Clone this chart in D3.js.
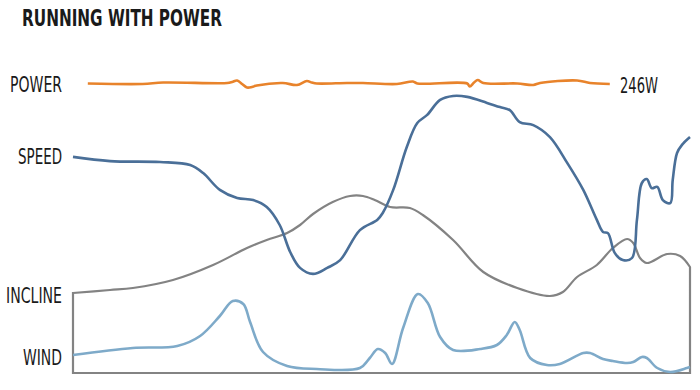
<!DOCTYPE html>
<html>
<head>
<meta charset="utf-8">
<script src="https://cdn.jsdelivr.net/npm/d3@7"></script>
<style>
  body { margin: 0; background: #fff; }
  svg text { font-family: "DejaVu Sans Condensed", "DejaVu Sans", sans-serif; fill: #1a1a1a; }
</style>
</head>
<body>
<div id="chart"></div>
<script>
// ─── DATA (distance in km) ───
const powerKm = [0.24, 1.13, 1.46, 2.50, 2.58, 2.66, 2.74, 2.82, 2.90, 2.98, 3.40, 3.63, 3.79, 3.87, 3.95, 4.44, 4.70, 5.25, 5.51, 5.58, 6.39, 6.43, 6.50, 6.56, 6.65, 7.20, 7.46, 7.57, 8.17, 8.38, 8.70];
const powerW = [245.5, 245, 246.5, 246, 247, 248.5, 245, 241.5, 242, 243.5, 246, 244, 248, 246.5, 245.5, 246, 246, 245, 247.5, 245.5, 245.5, 242.5, 246.5, 249, 246, 245.5, 244, 246, 248.5, 246, 245];

const speedKm = [0, 0.60, 1.41, 1.90, 2.11, 2.38, 2.66, 2.92, 3.14, 3.35, 3.52, 3.68, 3.89, 4.12, 4.33, 4.65, 4.93, 5.02, 5.19, 5.41, 5.58, 5.74, 5.95, 6.16, 6.39, 6.71, 6.92, 7.08, 7.24, 7.46, 7.73, 8.01, 8.27, 8.49, 8.59, 8.67, 8.78, 8.91, 9.06, 9.14, 9.22, 9.30, 9.38, 9.47, 9.56, 9.68, 9.72, 9.79, 9.87, 10.00];
const speedKmh = [12.77, 12.63, 12.60, 12.50, 12.23, 11.67, 11.40, 11.33, 11.10, 10.50, 9.60, 9.07, 8.87, 9.07, 9.33, 10.33, 10.67, 10.90, 11.67, 13.10, 13.90, 14.17, 14.67, 14.80, 14.77, 14.57, 14.43, 14.33, 13.93, 13.83, 13.43, 12.57, 11.67, 10.67, 10.27, 10.23, 9.57, 9.33, 9.40, 10.67, 11.90, 12.03, 11.73, 11.77, 11.33, 11.23, 12.00, 12.90, 13.17, 13.43];

const inclineKm = [0, 0.60, 0.97, 1.62, 2.27, 2.82, 3.14, 3.47, 3.68, 3.89, 4.21, 4.49, 4.70, 4.89, 5.14, 5.46, 5.67, 6.16, 6.65, 7.20, 7.73, 7.94, 8.17, 8.49, 8.75, 8.98, 9.08, 9.19, 9.30, 9.63, 9.84, 10.00];
const inclinePct = [4.00, 4.15, 4.25, 4.65, 5.40, 6.25, 6.65, 7.00, 7.40, 7.95, 8.55, 8.85, 8.85, 8.65, 8.30, 8.25, 7.90, 6.65, 5.05, 4.25, 3.85, 4.05, 4.80, 5.40, 6.25, 6.70, 6.50, 5.75, 5.50, 5.95, 5.85, 5.30];

const windKm = [0, 0.97, 1.69, 2.06, 2.38, 2.59, 2.76, 2.87, 3.08, 3.47, 3.95, 4.65, 4.81, 4.94, 5.06, 5.17, 5.35, 5.59, 5.75, 5.95, 6.16, 6.60, 6.87, 7.03, 7.16, 7.24, 7.41, 7.68, 7.89, 8.27, 8.38, 8.59, 8.75, 8.98, 9.08, 9.22, 9.30, 9.47, 9.68, 9.95, 10.00];
const windKmh = [3.6, 5.0, 5.4, 7.4, 11.4, 14.4, 13.8, 10.2, 4.2, 1.4, 0.8, 1.0, 3.0, 4.8, 4.0, 1.8, 9.0, 15.8, 14.0, 7.2, 4.6, 4.8, 5.6, 7.6, 10.2, 8.6, 3.0, 1.6, 1.8, 4.0, 4.0, 2.8, 2.4, 2.0, 2.2, 3.2, 3.0, 1.0, 0.2, 1.0, 1.2];

const title = "RUNNING WITH POWER";
const powerLabel = "246W";

// ─── LAYOUT ───
const width = 700, height = 390;
const svg = d3.select("#chart").append("svg")
    .attr("width", width)
    .attr("height", height);

const zip = (xs, ys) => xs.map((x, i) => ({ km: x, v: ys[i] }));

// Scales
const x = d3.scaleLinear().domain([0, 10]).range([73, 690]);
const powerY = d3.scaleLinear().domain([236, 256]).range([93, 73]);
const speedY = d3.scaleLinear().domain([8, 16]).range([300, 60]);
const inclineY = d3.scaleLinear().domain([0, 10]).range([373, 173]);
const windY = d3.scaleLinear().domain([0, 20]).range([373, 273]);

const curve = d3.curveCatmullRom.alpha(0.5); // smooth, passes through points

// Incline outline (area with no fill, frames the bottom panel)
const incline = zip(inclineKm, inclinePct);
svg.append("path")
    .datum(incline)
    .attr("fill", "none")
    .attr("stroke", "#838383")
    .attr("stroke-width", 2.2)
    .attr("d", d3.area().x(d => x(d.km)).y0(inclineY(0)).y1(d => inclineY(d.v)).curve(curve));

// Wind
const wind = zip(windKm, windKmh);
svg.append("path")
    .datum(wind)
    .attr("fill", "none")
    .attr("stroke", "#7eaac9")
    .attr("stroke-width", 2.6)
    .attr("d", d3.line().x(d => x(d.km)).y(d => windY(d.v)).curve(curve));

// Speed
const speed = zip(speedKm, speedKmh);
svg.append("path")
    .datum(speed)
    .attr("fill", "none")
    .attr("stroke", "#4a6f98")
    .attr("stroke-width", 2.6)
    .attr("d", d3.line().x(d => x(d.km)).y(d => speedY(d.v)).curve(curve));

// Power
const power = zip(powerKm, powerW);
svg.append("path")
    .datum(power)
    .attr("fill", "none")
    .attr("stroke", "#e8832b")
    .attr("stroke-width", 2.6)
    .attr("d", d3.line().x(d => x(d.km)).y(d => powerY(d.v)).curve(curve));

// ─── TEXT ───
svg.append("text")
    .attr("x", 22).attr("y", 26)
    .attr("font-size", 23)
    .attr("font-weight", "bold")
    .attr("textLength", 200)
    .attr("lengthAdjust", "spacingAndGlyphs")
    .text(title);

const labels = [
    { text: "POWER", y: powerY(powerW[0]) + 0.5, w: 52 },
    { text: "SPEED", y: speedY(speedKmh[0]) - 1, w: 44 },
    { text: "INCLINE", y: inclineY(inclinePct[0]) + 2, w: 56 },
    { text: "WIND", y: windY(windKmh[0]) + 1.5, w: 39 }
];

svg.selectAll(".series-label")
    .data(labels)
    .enter()
    .append("text")
    .attr("class", "series-label")
    .attr("x", 62)
    .attr("y", d => d.y + 8)
    .attr("text-anchor", "end")
    .attr("font-size", 22)
    .attr("textLength", d => d.w)
    .attr("lengthAdjust", "spacingAndGlyphs")
    .text(d => d.text);

svg.append("text")
    .attr("x", 620)
    .attr("y", powerY(powerW[powerW.length - 1]) + 9)
    .attr("font-size", 22)
    .attr("textLength", 38)
    .attr("lengthAdjust", "spacingAndGlyphs")
    .text(powerLabel);
</script>
</body>
</html>
